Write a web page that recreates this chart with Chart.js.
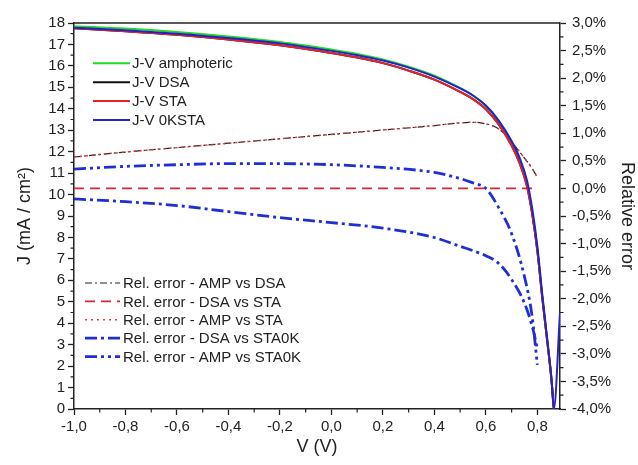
<!DOCTYPE html>
<html>
<head>
<meta charset="utf-8">
<script src="https://cdn.jsdelivr.net/npm/chart.js@4.4.1/dist/chart.umd.min.js"></script>
<style>
  html, body { margin: 0; padding: 0; background: #fff; }
</style>
</head>
<body>
<canvas id="chart" width="638" height="465"></canvas>
<script>
// J-V curves (V in volts, J in mA/cm2)
const jvVoltage = [-1, -0.8, -0.6, -0.4, -0.2, 0, 0.1, 0.2, 0.3, 0.4, 0.5, 0.55, 0.6, 0.65, 0.7, 0.73, 0.76, 0.78, 0.8, 0.82, 0.84, 0.855, 0.864];
const jvAmphoteric = [17.85, 17.74, 17.58, 17.37, 17.11, 16.76, 16.56, 16.30, 15.96, 15.54, 14.97, 14.62, 14.14, 13.41, 12.39, 11.58, 10.43, 9.14, 7.40, 5.10, 3.00, 1.35, 0];
const jvDSA = [17.75, 17.62, 17.45, 17.23, 16.96, 16.60, 16.39, 16.13, 15.78, 15.36, 14.79, 14.45, 13.98, 13.27, 12.29, 11.50, 10.37, 9.10, 7.38, 5.10, 3.00, 1.35, 0];
const jvSTA = [17.75, 17.62, 17.45, 17.23, 16.96, 16.60, 16.39, 16.13, 15.78, 15.36, 14.79, 14.45, 13.98, 13.27, 12.29, 11.50, 10.37, 9.10, 7.38, 5.10, 3.00, 1.35, 0];
const jv0KVoltage = [-1, -0.8, -0.6, -0.4, -0.2, 0, 0.1, 0.2, 0.3, 0.4, 0.5, 0.55, 0.6, 0.65, 0.7, 0.73, 0.76, 0.78, 0.8, 0.82, 0.84, 0.855, 0.864, 0.888];
const jv0KSTA = [17.78, 17.66, 17.50, 17.30, 17.05, 16.70, 16.50, 16.25, 15.92, 15.50, 14.95, 14.62, 14.15, 13.45, 12.50, 11.75, 10.65, 9.35, 7.60, 5.25, 3.10, 1.40, 0, 4.5];

// relative errors (%)
const errVoltage = [-1, -0.8, -0.6, -0.4, -0.2, 0, 0.2, 0.4, 0.5, 0.55, 0.6, 0.65, 0.7, 0.75, 0.78, 0.8];
const errAmpDsa = [0.57, 0.66, 0.74, 0.82, 0.90, 0.98, 1.06, 1.14, 1.19, 1.20, 1.17, 1.08, 0.84, 0.55, 0.36, 0.20];
const errAmpSta = [0.57, 0.66, 0.74, 0.82, 0.90, 0.98, 1.06, 1.14, 1.19, 1.20, 1.17, 1.08, 0.84, 0.55, 0.36, 0.20];
const errDsaSta = [0, 0, 0, 0, 0, 0, 0, 0, 0, 0, 0, 0, 0, 0, 0, 0];
const errDsaSta0K = [-0.19, -0.24, -0.31, -0.42, -0.53, -0.62, -0.72, -0.89, -1.05, -1.13, -1.22, -1.36, -1.65, -2.08, -2.50, -2.90];
const errAmpSta0K = [0.35, 0.40, 0.43, 0.45, 0.45, 0.43, 0.38, 0.29, 0.18, 0.10, 0.00, -0.35, -0.82, -1.60, -2.33, -3.20];

const xTicks = [-1.0, -0.8, -0.6, -0.4, -0.2, 0.0, 0.2, 0.4, 0.6, 0.8];
const xMinorTicks = [-0.9, -0.7, -0.5, -0.3, -0.1, 0.1, 0.3, 0.5, 0.7];

const FONT = "'Liberation Sans', Arial, sans-serif";
const INK = '#222';

function pts(xs, ys) {
  return xs.map((x, i) => ({x: x, y: ys[i]}));
}

function comma(v, digits) {
  return (Math.abs(v) < 1e-9 ? 0 : v).toFixed(digits).replace('.', ',');
}

// minor ticks + top frame line
const framePlugin = {
  id: 'frame',
  afterDraw(chart) {
    const ctx = chart.ctx;
    const a = chart.chartArea;
    const sx = chart.scales.x, sy = chart.scales.y, sy2 = chart.scales.y2;
    ctx.save();
    ctx.strokeStyle = INK;
    ctx.lineWidth = 1.5;
    ctx.beginPath();
    ctx.moveTo(a.left, a.top);
    ctx.lineTo(a.right, a.top);
    ctx.stroke();
    ctx.lineWidth = 1.2;
    ctx.beginPath();
    xMinorTicks.forEach(v => {
      const px = sx.getPixelForValue(v);
      ctx.moveTo(px, a.bottom);
      ctx.lineTo(px, a.bottom + 3.5);
    });
    for (let v = 0.5; v < 18; v += 1) {
      const py = sy.getPixelForValue(v);
      ctx.moveTo(a.left, py);
      ctx.lineTo(a.left - 3.5, py);
    }
    for (let v = -3.75; v < 3; v += 0.5) {
      const py = sy2.getPixelForValue(v);
      ctx.moveTo(a.right, py);
      ctx.lineTo(a.right + 3.5, py);
    }
    ctx.stroke();
    ctx.restore();
  }
};

const legendPlugin = {
  id: 'boxLegends',
  afterDraw(chart, args, opts) {
    const ctx = chart.ctx;
    const a = chart.chartArea;
    opts.groups.forEach(g => {
      g.items.forEach((idx, i) => {
        const ds = chart.data.datasets[idx];
        const y = a.top + g.top + i * g.rowHeight;
        ctx.save();
        ctx.strokeStyle = ds.borderColor;
        ctx.lineWidth = ds.borderWidth;
        ctx.setLineDash(ds.borderDash || []);
        ctx.beginPath();
        ctx.moveTo(a.left + g.lineStart, y);
        ctx.lineTo(a.left + g.lineEnd, y);
        ctx.stroke();
        ctx.setLineDash([]);
        ctx.fillStyle = INK;
        ctx.font = '15px ' + FONT;
        ctx.textBaseline = 'middle';
        ctx.fillText(ds.label, a.left + g.textX, y + 1);
        ctx.restore();
      });
    });
  }
};

const lineBase = {pointRadius: 0, fill: false, cubicInterpolationMode: 'monotone'};

const datasets = [
  Object.assign({label: 'J-V amphoteric', data: pts(jvVoltage, jvAmphoteric), borderColor: '#1fdc1f', borderWidth: 2, yAxisID: 'y', order: 3}, lineBase),
  Object.assign({label: 'J-V DSA', data: pts(jvVoltage, jvDSA), borderColor: '#111111', borderWidth: 2, yAxisID: 'y', order: 2}, lineBase),
  Object.assign({label: 'J-V STA', data: pts(jvVoltage, jvSTA), borderColor: '#e3232b', borderWidth: 2, yAxisID: 'y', order: 1}, lineBase),
  Object.assign({label: 'J-V 0KSTA', data: pts(jv0KVoltage, jv0KSTA), borderColor: '#2323c8', borderWidth: 2, yAxisID: 'y', order: 0}, lineBase),
  Object.assign({label: 'Rel. error - AMP vs DSA', data: pts(errVoltage, errAmpDsa), borderColor: '#222222', borderWidth: 1.2, borderDash: [7, 3, 2, 3], yAxisID: 'y2', order: 6}, lineBase),
  Object.assign({label: 'Rel. error - DSA vs STA', data: pts(errVoltage, errDsaSta), borderColor: '#d92a2a', borderWidth: 1.8, borderDash: [10, 6], yAxisID: 'y2', order: 7}, lineBase),
  Object.assign({label: 'Rel. error - AMP vs STA', data: pts(errVoltage, errAmpSta), borderColor: '#e43a3a', borderWidth: 1.5, borderDash: [2, 4], yAxisID: 'y2', order: 5}, lineBase),
  Object.assign({label: 'Rel. error - DSA vs STA0K', data: pts(errVoltage, errDsaSta0K), borderColor: '#1f2fd6', borderWidth: 2.8, borderDash: [12, 4, 3, 4], yAxisID: 'y2', order: 8}, lineBase),
  Object.assign({label: 'Rel. error - AMP vs STA0K', data: pts(errVoltage, errAmpSta0K), borderColor: '#1f2fd6', borderWidth: 2.8, borderDash: [12, 4, 3, 4, 3, 4], yAxisID: 'y2', order: 9}, lineBase)
];

const axisGrid = {display: true, drawOnChartArea: false, drawTicks: true, tickLength: 6, tickWidth: 1.3, tickColor: INK};
const axisBorder = {display: true, color: INK, width: 1.5};

Chart.defaults.font.family = FONT;
Chart.defaults.font.size = 15;
Chart.defaults.color = INK;

new Chart(document.getElementById('chart').getContext('2d'), {
  type: 'line',
  data: {datasets: datasets},
  options: {
    responsive: false,
    animation: false,
    devicePixelRatio: 1,
    layout: {padding: {top: 23, left: 0, right: 0, bottom: 0}},
    plugins: {
      legend: {display: false},
      tooltip: {enabled: false},
      boxLegends: {
        groups: [
          {items: [0, 1, 2, 3], top: 40.3, rowHeight: 18.9, lineStart: 19, lineEnd: 56, textX: 58},
          {items: [4, 5, 6, 7, 8], top: 260, rowHeight: 18.4, lineStart: 11, lineEnd: 46, textX: 49}
        ]
      }
    },
    scales: {
      x: {
        type: 'linear',
        min: -1,
        max: 0.888,
        grid: axisGrid,
        border: axisBorder,
        afterBuildTicks: s => { s.ticks = xTicks.map(v => ({value: v})); },
        afterFit: s => { s.height = 56; },
        ticks: {padding: 3, maxRotation: 0, callback: v => comma(v, 1)},
        title: {display: true, text: 'V (V)', font: {size: 18}, padding: {top: 0, bottom: 7}}
      },
      y: {
        type: 'linear',
        position: 'left',
        min: 0,
        max: 18,
        grid: axisGrid,
        border: axisBorder,
        afterFit: s => { s.width = 74; },
        ticks: {stepSize: 1, padding: 3, callback: v => String(v)},
        title: {display: true, text: 'J (mA / cm²)', font: {size: 18}, padding: {top: 14, bottom: 0}}
      },
      y2: {
        type: 'linear',
        position: 'right',
        min: -4,
        max: 3,
        grid: axisGrid,
        border: axisBorder,
        afterFit: s => { s.width = 78; },
        ticks: {stepSize: 0.5, padding: 6, callback: v => comma(v, 1) + '%'},
        title: {display: true, text: 'Relative error', font: {size: 18}, padding: {top: 0, bottom: 0}}
      }
    }
  },
  plugins: [framePlugin, legendPlugin]
});
</script>
</body>
</html>
